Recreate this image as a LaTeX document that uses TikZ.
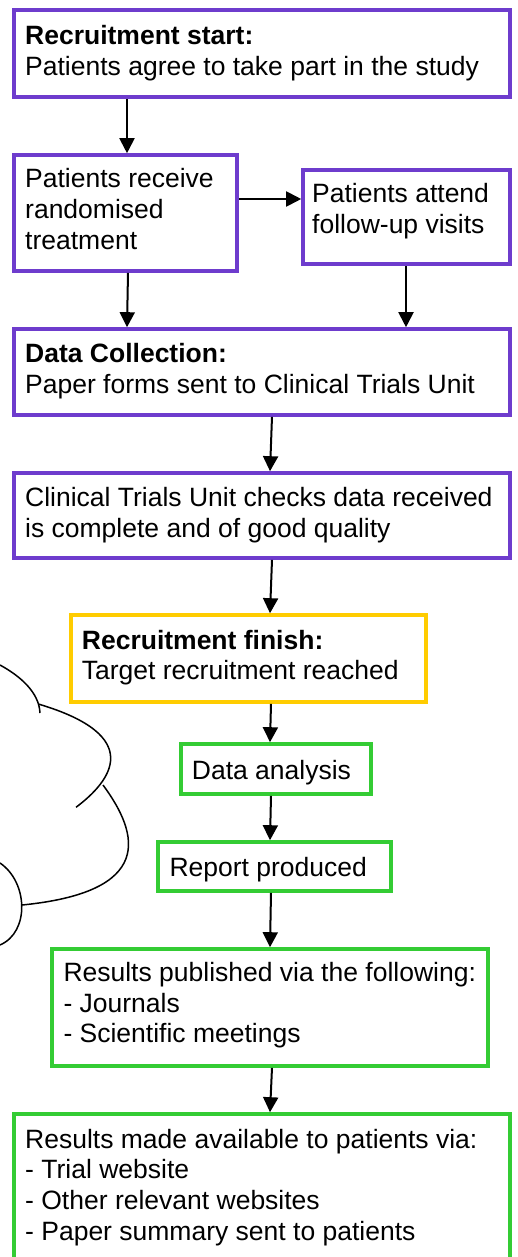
\documentclass[tikz,border=0pt]{standalone}
\usepackage{fontspec}
\setmainfont{Liberation Sans}
\usetikzlibrary{arrows.meta}
\definecolor{violetb}{RGB}{110,60,205}
\definecolor{yellowb}{RGB}{255,204,0}
\definecolor{greenb}{RGB}{52,204,52}
\tikzset{
  boxbase/.style={draw, rectangle, line width=3.6pt, inner sep=0pt, fill=white},
  pbox/.style={boxbase, draw=violetb},
  ybox/.style={boxbase, draw=yellowb},
  gbox/.style={boxbase, draw=greenb},
  txt/.style={anchor=base west, inner sep=0pt, font=\fontsize{26.5}{30.6}\selectfont},
  arr/.style={line width=2pt, -{Triangle[width=15pt,length=15pt]}},
  cloudline/.style={line width=1.5pt, black}
}
\newcommand{\lines}[1]{\begin{tabular}[t]{@{}l@{}}#1\end{tabular}}
\begin{document}
\begin{tikzpicture}[x=1pt,y=-1pt]
\useasboundingbox (0,0) rectangle (518,1257);
\clip (0,0) rectangle (518,1257);
\fill[white] (0,0) rectangle (518,1257);

% cloud (partly outside the picture)
\draw[cloudline] (0,665) .. controls (20,676) and (39,692) .. (40,713);
\draw[cloudline] (38.3,704) .. controls (146,736) and (111,781) .. (76,807.3);
\draw[cloudline] (103,785) .. controls (140,835) and (154,892) .. (22,905);
\draw[cloudline] (0,863) .. controls (28,882) and (30,932) .. (0,945);

% boxes
\node[pbox, minimum width=496, minimum height=87]  (b1)  at (262,53.5) {};
\node[pbox, minimum width=223, minimum height=116] (b2)  at (125.5,213) {};
\node[pbox, minimum width=207, minimum height=94]  (b3)  at (406.5,217) {};
\node[pbox, minimum width=496, minimum height=86]  (b4)  at (262,372) {};
\node[pbox, minimum width=496, minimum height=85]  (b5)  at (262,515.5) {};
\node[ybox, minimum width=355, minimum height=87]  (b6)  at (248.5,658.5) {};
\node[gbox, minimum width=190, minimum height=50]  (b7)  at (276,769) {};
\node[gbox, minimum width=233, minimum height=49]  (b8)  at (274.5,866.5) {};
\node[gbox, minimum width=436, minimum height=117] (b9)  at (270,1007.5) {};
\node[gbox, minimum width=496, minimum height=156] (b10) at (262,1192) {};

% texts
\node[txt] (t1) at (25,45) {\lines{\textbf{Recruitment start:}\\Patients agree to take part in the study}};
\node[txt] (t2) at (25,188) {\lines{Patients receive\\randomised\\treatment}};
\node[txt] (t3) at (312,203) {\lines{Patients attend\\follow-up visits}};
\node[txt] (t4) at (25,362.7) {\lines{\textbf{Data Collection:}\\Paper forms sent to Clinical Trials Unit}};
\node[txt] (t5) at (25,506.7) {\lines{Clinical Trials Unit checks data received\\is complete and of good quality}};
\node[txt] (t6) at (81.7,649.3) {\lines{\textbf{Recruitment finish:}\\Target recruitment reached}};
\node[txt] (t7) at (191.7,779) {Data analysis};
\node[txt] (t8) at (169.3,876.7) {Report produced};
\node[txt] (t9) at (63.3,981.7) {\lines{Results published via the following:\\- Journals\\- Scientific meetings}};
\node[txt] (t10) at (25,1148.3) {\lines{Results made available to patients via:\\- Trial website\\- Other relevant websites\\- Paper summary sent to patients}};

% connectors
\draw[arr] (b1.south -| 127,0) -- (b2.north -| 127,0);
\draw[arr] (b2.east |- 0,199) -- (b3.west |- 0,199);
\draw[arr] (b2.south -| 128,0) -- (b4.north -| 127,0);
\draw[arr] (b3.south -| 406,0) -- (b4.north -| 406,0);
\draw[arr] (b4.south -| 272,0) -- (b5.north -| 270,0);
\draw[arr] (b5.south -| 272,0) -- (b6.north -| 270,0);
\draw[arr] (b6.south -| 271,0) -- (b7.north -| 270,0);
\draw[arr] (b7.south -| 271,0) -- (b8.north -| 270,0);
\draw[arr] (b8.south -| 271,0) -- (b9.north -| 270,0);
\draw[arr] (b9.south -| 272,0) -- (b10.north -| 270,0);
\end{tikzpicture}
\end{document}
